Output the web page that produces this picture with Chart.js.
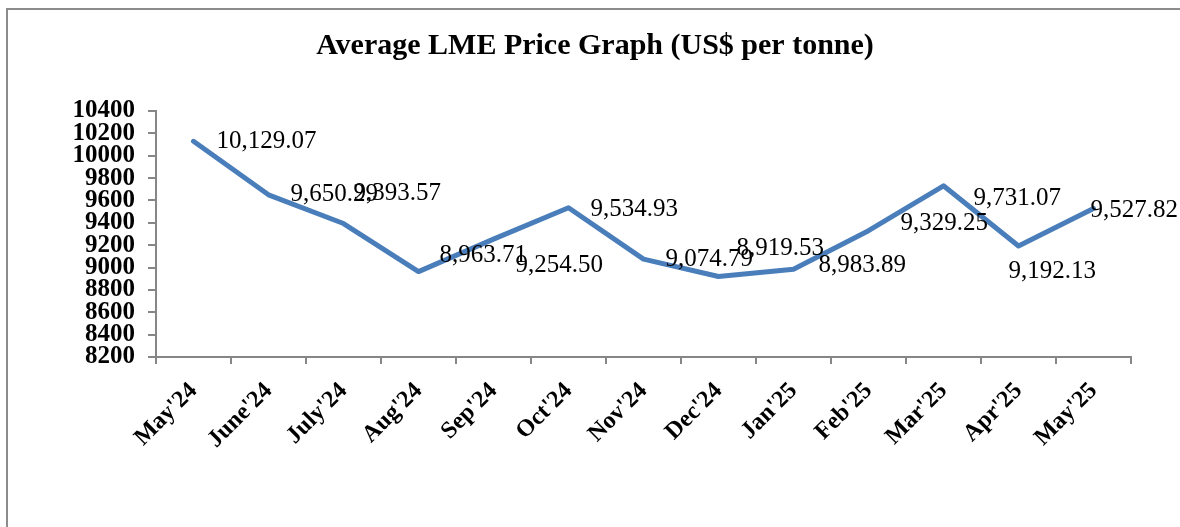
<!DOCTYPE html>
<html>
<head>
<meta charset="utf-8">
<script src="https://cdn.jsdelivr.net/npm/chart.js@4/dist/chart.umd.min.js"></script>
<style>
  html, body { margin: 0; padding: 0; background: #fff; overflow: hidden; }
  #wrap { position: relative; width: 1180px; height: 527px; }
  #frame { position: absolute; left: 6px; top: 8px; width: 3000px; height: 3000px;
           border-left: 2px solid #8c8c8c; border-top: 2px solid #8c8c8c; pointer-events: none; }
  canvas { position: absolute; left: 0; top: 0; }
</style>
</head>
<body>
<div id="wrap">
  <canvas id="c" width="1180" height="527"></canvas>
  <div id="frame"></div>
</div>
<script>
const categories = ["May'24","June'24","July'24","Aug'24","Sep'24","Oct'24","Nov'24","Dec'24","Jan'25","Feb'25","Mar'25","Apr'25","May'25"];
const prices = [10129.07, 9650.29, 9393.57, 8963.71, 9254.50, 9534.93, 9074.79, 8919.53, 8983.89, 9329.25, 9731.07, 9192.13, 9527.82];
const valueLabels = ["10,129.07","9,650.29","9,393.57","8,963.71","9,254.50","9,534.93","9,074.79","8,919.53","8,983.89","9,329.25","9,731.07","9,192.13","9,527.82"];
const yTicks = { min: 8200, max: 10400, step: 200 };
const chartTitle = 'Average LME Price Graph (US$ per tonne)';
// label placement offsets (px) relative to each point, as in the original
const labelOffsets = [[23,0],[22,0],[10,-30],[21,-16],[22,26],[22,2],[22,0],[18,-28],[25,-4],[32,-7],[30,13],[-10,25],[-3,2]];

const SERIF = '"Liberation Serif", "Times New Roman", serif';

const dataLabelPlugin = {
  id: 'dataLabels',
  afterDatasetsDraw(chart) {
    const ctx = chart.ctx;
    const meta = chart.getDatasetMeta(0);
    ctx.save();
    ctx.font = '25px ' + SERIF;
    ctx.fillStyle = '#000';
    ctx.textAlign = 'left';
    ctx.textBaseline = 'middle';
    meta.data.forEach((pt, i) => {
      const o = labelOffsets[i];
      ctx.fillText(valueLabels[i], pt.x + o[0], pt.y + o[1]);
    });
    ctx.restore();
  }
};

const titlePlugin = {
  id: 'customTitle',
  afterDraw(chart) {
    const ctx = chart.ctx;
    ctx.save();
    ctx.font = 'bold 30px ' + SERIF;
    ctx.fillStyle = '#000';
    ctx.textAlign = 'center';
    ctx.textBaseline = 'middle';
    ctx.fillText(chartTitle, 595, 46);
    ctx.restore();
  }
};

new Chart(document.getElementById('c'), {
  type: 'line',
  data: {
    labels: categories,
    datasets: [{
      data: prices,
      borderColor: '#4A7EBB',
      borderWidth: 5,
      borderJoinStyle: 'round',
      borderCapStyle: 'round',
      pointRadius: 0,
      tension: 0,
      fill: false
    }]
  },
  options: {
    responsive: false,
    animation: false,
    layout: { padding: { left: 0, right: 49, top: 111, bottom: 0 } },
    plugins: {
      legend: { display: false },
      tooltip: { enabled: false },
      title: { display: false }
    },
    scales: {
      x: {
        offset: true,
        grid: { offset: true, drawOnChartArea: false, drawTicks: true, tickLength: 7, color: '#868686', lineWidth: 2 },
        border: { display: true, color: '#868686', width: 2 },
        ticks: {
          color: '#000',
          font: { family: SERIF, size: 24, weight: 'bold' },
          maxRotation: 45, minRotation: 45, autoSkip: false, padding: 13
        },
        afterFit(scale) { scale.height = 170; }
      },
      y: {
        min: yTicks.min, max: yTicks.max,
        grid: { drawOnChartArea: false, drawTicks: true, tickLength: 8, color: '#868686', lineWidth: 2 },
        border: { display: true, color: '#868686', width: 2 },
        ticks: {
          stepSize: yTicks.step, autoSkip: false, color: '#000', padding: 13,
          font: { family: SERIF, size: 25, weight: 'bold' },
          callback: (v) => String(v)
        },
        afterFit(scale) { scale.width = 156; }
      }
    }
  },
  plugins: [dataLabelPlugin, titlePlugin]
});
</script>
</body>
</html>
